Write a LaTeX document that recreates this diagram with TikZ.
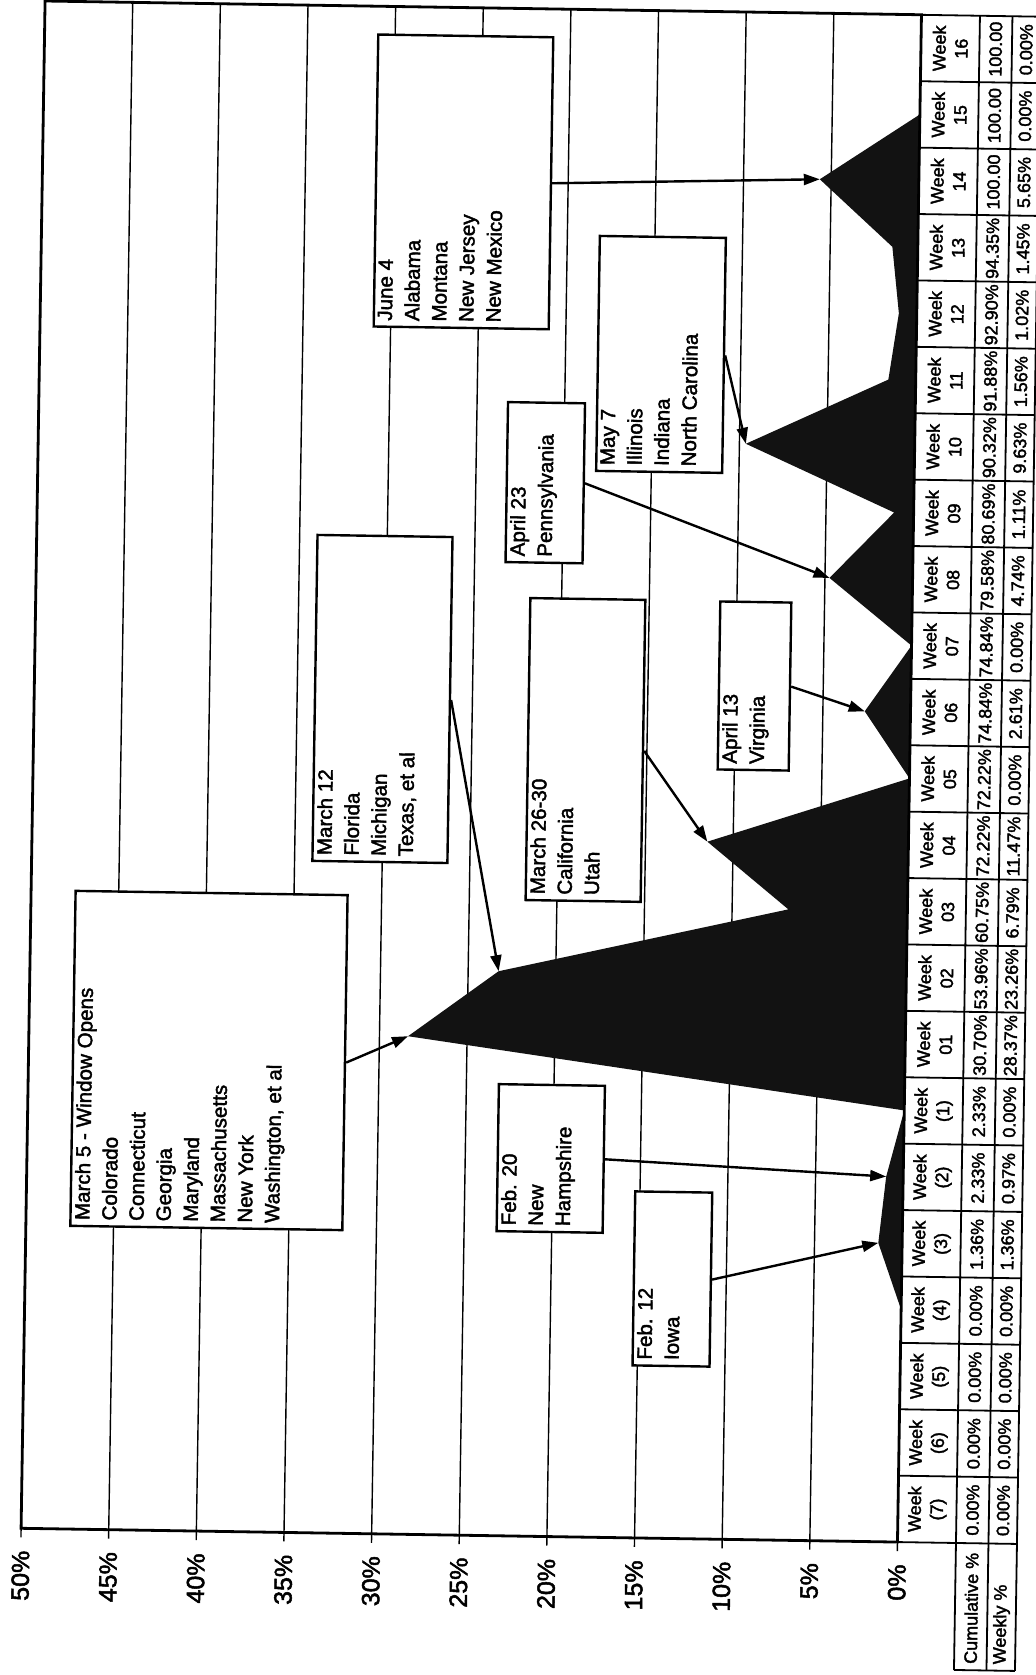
\documentclass[tikz,border=0pt]{standalone}
\usepackage{fontspec}
\setmainfont{Liberation Sans}[FakeBold=2]
\usepackage{graphicx}
\usetikzlibrary{arrows.meta}
\newcommand{\pw}[1]{(#1)}
\newcommand{\boxtxt}[3]{\rotatebox{90}{\parbox[c][#1][t]{#2}{\raggedright\leftskip=3pt\fontsize{10.3}{13.55}\selectfont\vspace*{2pt}#3}}}
\begin{document}
\begin{tikzpicture}[x=0.5pt, y=-0.5pt,
  grid/.style={line width=0.7pt},
  frame/.style={line width=1.4pt},
  tab/.style={line width=0.9pt},
  callout/.style={draw, fill=white, line width=1.2pt, inner sep=0pt},
  arr/.style={line width=1.2pt, -{Triangle[length=8pt,width=5.5pt]}},
  area/.style={fill=black!93},
  axlab/.style={rotate=90, anchor=east, inner sep=0pt, font=\fontsize{12.5}{14}\selectfont},
  hdr/.style={rotate=90, align=center, inner sep=0pt, font=\fontsize{9}{11}\selectfont},
  val/.style={rotate=90, inner sep=0pt, font=\fontsize{9}{10}\selectfont},
  rowlab/.style={rotate=90, anchor=west, inner sep=0pt, font=\fontsize{9}{10}\selectfont}]
\useasboundingbox (0,0) rectangle (1035,1675);
\fill[white] (0,0) rectangle (1035,1675);
\begin{scope}[rotate around={-0.9:(517,837)}, transform shape]
% gridlines and ticks
\foreach \i in {1,...,9} \draw[grid] ({32+87.65*\i},8.5) -- ({32+87.65*\i},1536);
\foreach \i in {0,...,10} \draw[grid] ({32+87.65*\i},1536) -- ({32+87.65*\i},1545);
% data points
\foreach \v [count=\k from 0] in {0,0,0,0,1.36,0.97,0,28.37,23.26,6.79,11.47,0,2.61,0,4.74,1.11,9.63,1.56,1.02,1.45,5.65,0,0}
  \coordinate (p\k) at ({908.5-17.53*\v},{1536-66.41*(\k+0.5)});
\fill[area] (p0) \foreach \k in {1,...,22} {-- (p\k)} -- cycle;
% plot frame
\draw[frame] (32,8.5) rectangle (908.5,1536);
% axis labels
\foreach \i/\t in {0/50,1/45,2/40,3/35,4/30,5/25,6/20,7/15,8/10,9/5,10/0}
  \node[axlab] (ax\i) at ({32+87.65*\i},1558) {\t\%};
% data table
\foreach \k in {0,...,23} \draw[tab] (908.5,{1536-66.41*\k}) -- (1028,{1536-66.41*\k});
\draw[tab] (967,8.5) -- (967,1663);
\draw[tab] (999.5,8.5) -- (999.5,1663);
\draw[tab] (1028,8.5) -- (1028,1663);
\draw[tab] (967,1663) -- (1028,1663);
\foreach \wk/\cu/\we [count=\k from 0] in {\pw{7}/0.00\%/0.00\%, \pw{6}/0.00\%/0.00\%, \pw{5}/0.00\%/0.00\%, \pw{4}/0.00\%/0.00\%, \pw{3}/1.36\%/1.36\%, \pw{2}/2.33\%/0.97\%, \pw{1}/2.33\%/0.00\%, 01/30.70\%/28.37\%, 02/53.96\%/23.26\%, 03/60.75\%/6.79\%, 04/72.22\%/11.47\%, 05/72.22\%/0.00\%, 06/74.84\%/2.61\%, 07/74.84\%/0.00\%, 08/79.58\%/4.74\%, 09/80.69\%/1.11\%, 10/90.32\%/9.63\%, 11/91.88\%/1.56\%, 12/92.90\%/1.02\%, 13/94.35\%/1.45\%, 14/100.00/5.65\%, 15/100.00/0.00\%, 16/100.00/0.00\%}
{
  \node[hdr] (h\k) at (937.75,{1536-66.41*(\k+0.5)}) {Week\\\wk};
  \node[val] (c\k) at (983.25,{1536-66.41*(\k+0.5)}) {\cu};
  \node[val] (w\k) at (1013.75,{1536-66.41*(\k+0.5)}) {\we};
}
\node[rowlab] (cumlab) at (983.25,1657) {Cumulative \%};
\node[rowlab] (wklab) at (1013.75,1657) {Weekly \%};
% callout boxes
\node[callout] (june) at (453.2,182.8) {\boxtxt{87.5pt}{146pt}{June 4\\Alabama\\Montana\\New Jersey\\New Mexico}};
\node[callout] (may) at (653.4,352.2) {\boxtxt{63pt}{117.5pt}{May 7\\Illinois\\Indiana\\North Carolina}};
\node[callout] (apr23) at (539.7,482.3) {\boxtxt{38.5pt}{80pt}{April 23\\Pennsylvania}};
\node[callout] (mar26) at (584.1,748.9) {\boxtxt{57.5pt}{151pt}{March 26-30\\California\\Utah}};
\node[callout] (apr13) at (752.1,682.3) {\boxtxt{35.5pt}{84pt}{April 13\\Virginia}};
\node[callout] (mar12) at (380.3,701.1) {\boxtxt{67.5pt}{163pt}{March 12\\Florida\\Michigan\\Texas, et al}};
\node[callout] (mar5) at (212.5,1065.3) {\boxtxt{136pt}{167.5pt}{March 5 - Window Opens\\Colorado\\Connecticut\\Georgia\\Maryland\\Massachusetts\\New York\\Washington, et al}};
\node[callout] (feb20) at (555.8,1157.9) {\boxtxt{53pt}{73.5pt}{Feb. 20\\New\\Hampshire}};
\node[callout] (feb12) at (679.3,1276.5) {\boxtxt{38.5pt}{87pt}{Feb. 12\\Iowa}};
% arrows
\draw[arr] (june.east) -- (p20);
\draw[arr] (may.east) -- (p16);
\draw[arr] (apr23.east) -- (p14);
\draw[arr] (apr13.east) -- (p12);
\draw[arr] (mar26.east) -- (p10);
\draw[arr] (mar12.east) -- (p8);
\draw[arr] (mar5.east) -- (p7);
\draw[arr] (feb20.east) -- (p5);
\draw[arr] (feb12.east) -- (p4);
\end{scope}
\end{tikzpicture}
\end{document}
